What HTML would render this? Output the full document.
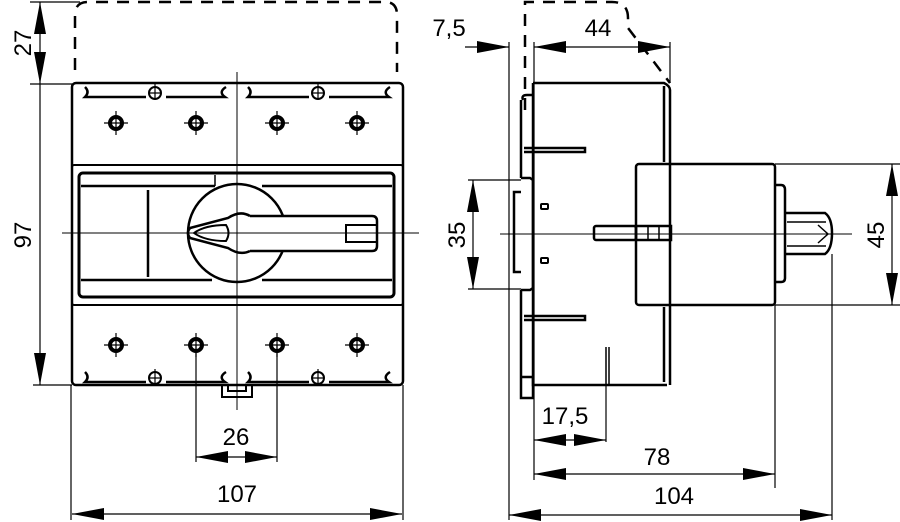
<!DOCTYPE html>
<html><head><meta charset="utf-8"><style>
html,body{margin:0;padding:0;background:#fff;}
svg{display:block;}
text{font-family:"Liberation Sans",sans-serif;font-size:24px;fill:#000;}
</style></head><body>
<svg width="900" height="522" viewBox="0 0 900 522" xmlns="http://www.w3.org/2000/svg">
<defs>
<marker id="A" viewBox="0 0 32 12" refX="32" refY="6" markerWidth="32" markerHeight="12" markerUnits="userSpaceOnUse" orient="auto-start-reverse"><path d="M0,0L32,6L0,12z" fill="#000"/></marker>
</defs>
<g fill="none" stroke="#000">
<path d="M75,70 V15 Q75,2 88,2 H385 Q397,2 397,15 V72" stroke-width="2.5" stroke-dasharray="12,9"/>
<rect x="72" y="83" width="331" height="302" rx="4" stroke-width="2.5"/>
<rect x="72" y="165" width="331" height="140" rx="2" stroke-width="2"/>
<rect x="79" y="173" width="315" height="124" rx="4" stroke-width="3"/>
<line x1="81" y1="186" x2="215" y2="186" stroke-width="2.5"/>
<line x1="262" y1="186" x2="392" y2="186" stroke-width="2.5"/>
<line x1="81" y1="280" x2="212" y2="280" stroke-width="2.5"/>
<line x1="262" y1="280" x2="392" y2="280" stroke-width="2.5"/>
<line x1="148" y1="190" x2="148" y2="277" stroke-width="2.5"/>
<line x1="215" y1="175" x2="215" y2="186" stroke-width="1.5"/>
<g stroke-width="2.5">
<path d="M85,87 Q90,92 85,97 H146 M166,97 H225 Q218,92 226,87"/>
<path d="M248,87 Q253,92 248,97 H309 M329,97 H389 Q382,92 390,87"/>
<path d="M85,372 Q90,377 85,382 H146 M166,382 H225 Q218,377 226,372"/>
<path d="M248,372 Q253,377 248,382 H309 M329,382 H389 Q382,377 390,372"/>
</g>
<g stroke-width="2">
<circle cx="155" cy="93" r="6"/><circle cx="318" cy="93" r="6"/>
<circle cx="155" cy="378" r="6"/><circle cx="318" cy="378" r="6"/>
<path d="M155,84v16M149,93h12M318,84v16M312,93h12M155,369v16M149,378h12M318,369v16M312,378h12" stroke-width="1.2"/>
</g>
<path d="M222,385 V397 H252 V385 M228,385 V391 H246 V385" stroke-width="2"/>
<g stroke-width="4">
<circle cx="116" cy="123" r="6"/><circle cx="196" cy="123" r="6"/><circle cx="277" cy="123" r="6"/><circle cx="357" cy="123" r="6"/>
<circle cx="116" cy="345" r="6"/><circle cx="196" cy="345" r="6"/><circle cx="277" cy="345" r="6"/><circle cx="357" cy="345" r="6"/>
</g>
<g stroke-width="1.2">
<path d="M104,123h24M116,111v24M184,123h24M196,111v24M265,123h24M277,111v24M345,123h24M357,111v24"/>
<path d="M104,345h24M116,333v24M184,345h24M196,333v24M265,345h24M277,333v24M345,345h24M357,333v24"/>
</g>
<circle cx="237" cy="233" r="49" stroke-width="2.5" fill="#fff"/>
<path d="M250,216 H372 Q377,216 377,221 V246 Q377,251 372,251 H250 M250,216 Q240,210 228,218 L190,228 Q186,233 190,238 L228,248 Q240,256 250,251" stroke-width="2.5" fill="#fff"/>
<path d="M226,225 Q205,225 194,233 Q205,241 226,241 Q231,233 226,225z" stroke-width="2"/>
<path d="M377,225 H346 V242 H377" stroke-width="2"/>
<line x1="237" y1="72" x2="237" y2="410" stroke-width="1"/>
<line x1="62" y1="233" x2="419" y2="233" stroke-width="1"/>
<g stroke-width="1.2">
<line x1="30" y1="2" x2="80" y2="2"/>
<line x1="30" y1="84" x2="72" y2="84"/>
<line x1="33" y1="385" x2="72" y2="385"/>
<line x1="40" y1="2" x2="40" y2="84" marker-start="url(#A)" marker-end="url(#A)"/>
<line x1="40" y1="84" x2="40" y2="385" marker-end="url(#A)"/>
<line x1="196" y1="345" x2="196" y2="462"/>
<line x1="277" y1="345" x2="277" y2="462"/>
<line x1="196" y1="457" x2="277" y2="457" marker-start="url(#A)" marker-end="url(#A)"/>
<line x1="71" y1="385" x2="71" y2="520"/>
<line x1="403" y1="385" x2="403" y2="520"/>
<line x1="72" y1="514" x2="402" y2="514" marker-start="url(#A)" marker-end="url(#A)"/>
</g>
<path d="M525,110 V2 H612 Q628,2 628,18 V28 L670,83" stroke-width="2.5" stroke-dasharray="12,9"/>
<g stroke-width="2.5">
<path d="M533,83 H664 Q670,86 670,90 V385"/>
<path d="M664,86 V162 M664,307 V382"/>
<path d="M533,83 V385 H667"/>
<path d="M527,95 H533 M523,100 Q521,95 527,95 M521,100 V178 M521,290 V377 M521,377 H533 V398 H521 V377"/>
<path d="M524,148 H585 V152 H524 M524,316 H585 V320 H524"/>
<path d="M606,347 V385 M609,347 V385" stroke-width="1.5"/>
<rect x="636" y="164" width="139" height="141" rx="3"/>
<path d="M775,185 H781 Q785,185 785,190 V278 Q785,282 781,282 H775"/>
<path d="M785,213 H825 Q832,218 832,233 Q832,249 825,254 H785"/>
<path d="M787,222 L826,222 M787,246 L826,246 M818,225 L828,234 L818,243" stroke-width="1.5"/>
<rect x="594" y="226" width="42" height="14" rx="2"/>
<rect x="636" y="226" width="35" height="14"/>
<path d="M648,226V240M659,226V240" stroke-width="1.5"/>
<rect x="541" y="204" width="7" height="5" rx="1" stroke-width="2"/>
<rect x="541" y="258" width="7" height="5" rx="1" stroke-width="2"/>
<path d="M521,178 H530 L533,180 V288 L530,290 H521 M521,192 H514 V272 H521"/>
</g>
<line x1="500" y1="234" x2="852" y2="234" stroke-width="1"/>
<g stroke-width="1.2">
<line x1="509" y1="42" x2="509" y2="520"/>
<line x1="534" y1="42" x2="534" y2="480"/>
<line x1="670" y1="42" x2="670" y2="83"/>
<line x1="465" y1="47" x2="509" y2="47" marker-end="url(#A)"/>
<line x1="534" y1="47" x2="670" y2="47" marker-start="url(#A)" marker-end="url(#A)"/>
<line x1="468" y1="180" x2="521" y2="180"/>
<line x1="468" y1="289" x2="521" y2="289"/>
<line x1="473" y1="180" x2="473" y2="289" marker-start="url(#A)" marker-end="url(#A)"/>
<line x1="775" y1="164" x2="900" y2="164"/>
<line x1="775" y1="305" x2="900" y2="305"/>
<line x1="892" y1="164" x2="892" y2="305" marker-start="url(#A)" marker-end="url(#A)"/>
<line x1="606" y1="385" x2="606" y2="442"/>
<line x1="534" y1="440" x2="606" y2="440" marker-start="url(#A)" marker-end="url(#A)"/>
<line x1="775" y1="305" x2="775" y2="488"/>
<line x1="534" y1="474" x2="775" y2="474" marker-start="url(#A)" marker-end="url(#A)"/>
<line x1="832" y1="254" x2="832" y2="520"/>
<line x1="509" y1="515" x2="832" y2="515" marker-start="url(#A)" marker-end="url(#A)"/>
</g>
</g>
<text x="31" y="43" text-anchor="middle" transform="rotate(-90 31 43)">27</text>
<text x="31" y="235" text-anchor="middle" transform="rotate(-90 31 235)">97</text>
<text x="236" y="445" text-anchor="middle">26</text>
<text x="237" y="502" text-anchor="middle">107</text>
<text x="449" y="36" text-anchor="middle">7,5</text>
<text x="598" y="36" text-anchor="middle">44</text>
<text x="465" y="235" text-anchor="middle" transform="rotate(-90 465 235)">35</text>
<text x="884" y="235" text-anchor="middle" transform="rotate(-90 884 235)">45</text>
<text x="565" y="424" text-anchor="middle">17,5</text>
<text x="657" y="465" text-anchor="middle">78</text>
<text x="674" y="504" text-anchor="middle">104</text>
</svg>
</body></html>
